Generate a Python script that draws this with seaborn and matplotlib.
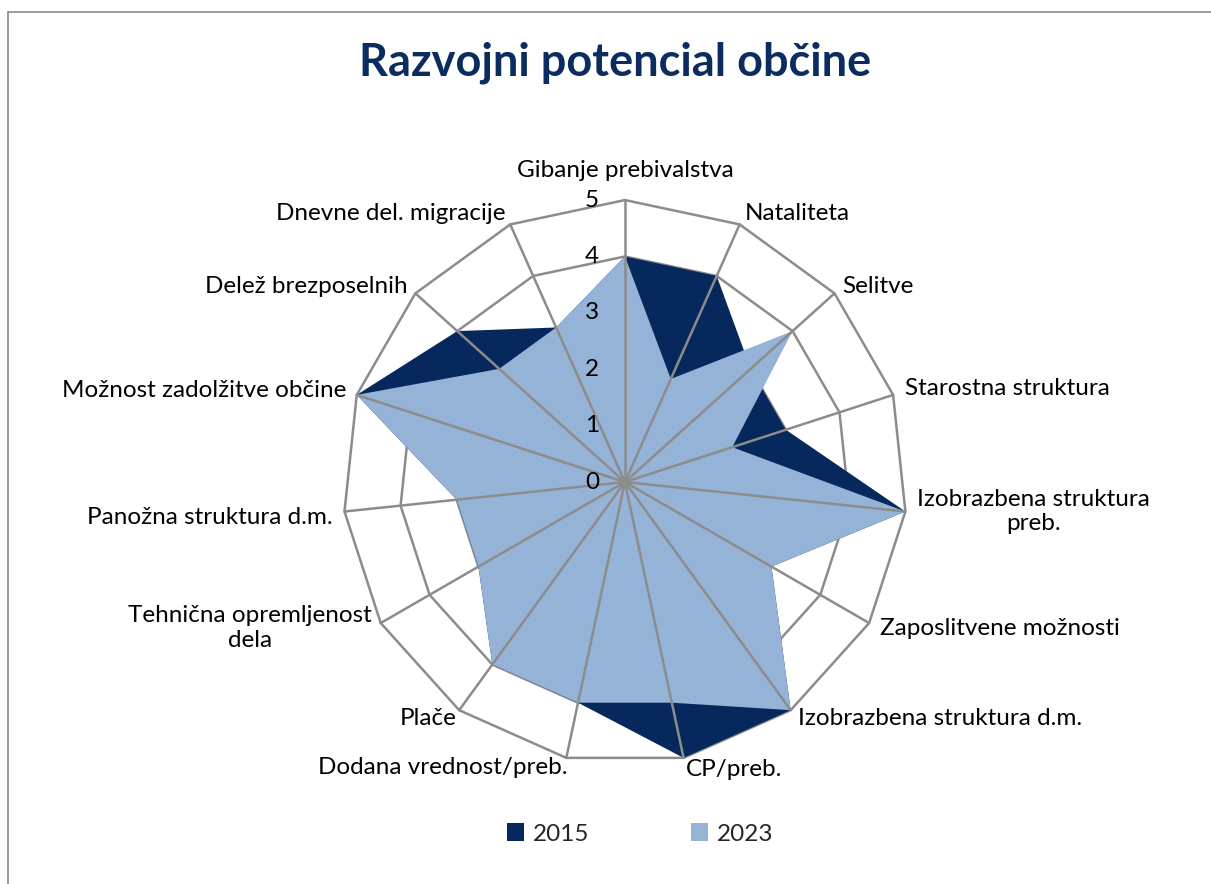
import numpy as np
import matplotlib
matplotlib.use("Agg")
import matplotlib.pyplot as plt
from matplotlib.patches import Patch
from matplotlib.lines import Line2D
import seaborn as sns

# ---- data ----
categories = [
    "Gibanje prebivalstva", "Nataliteta", "Selitve", "Starostna struktura",
    "Izobrazbena struktura\npreb.", "Zaposlitvene možnosti",
    "Izobrazbena struktura d.m.", "CP/preb.", "Dodana vrednost/preb.", "Plače",
    "Tehnična opremljenost\ndela", "Panožna struktura d.m.",
    "Možnost zadolžitve občine", "Delež brezposelnih", "Dnevne del. migracije",
]
values_2015 = [4, 4, 3, 3, 5, 3, 5, 5, 4, 4, 3, 3, 5, 4, 3]
values_2023 = [4, 2, 4, 2, 5, 3, 5, 4, 4, 4, 3, 3, 5, 3, 3]
series_names = ["2015", "2023"]
radial_ticks = [0, 1, 2, 3, 4, 5]
title = "Razvojni potencial občine"

# ---- style ----
sns.set_theme(style="white")
plt.rcParams["font.family"] = ["Lato", "DejaVu Sans"]
c2015 = "#06285C"
c2023 = "#95B3D7"
grid_c = "#8C8C8C"
title_c = "#0B2C5F"
lab_fs = 17.5

# label layout: (dx, dy) pixel offsets from r=max, horizontal alignment
label_layout = [
    ((0, 30), "center"), ((5, 11), "left"), ((8, 7), "left"), ((12, 6), "left"),
    ((12, 0), "left"), ((11, -5), "left"), ((7, -8), "left"), ((2, -12), "left"),
    ((1, -10), "right"), ((-3, -8), "right"), ((-9, -5), "right"),
    ((-12, -6), "right"), ((-10, 4), "right"), ((-8, 7), "right"), ((-5, 11), "right"),
]

fig = plt.figure(figsize=(12.11, 8.84), dpi=100)
fig.patch.set_facecolor("white")
ax = fig.add_axes([0.2832, 0.1357, 0.4657, 0.638], projection="polar")
ax.set_theta_offset(np.pi / 2)
ax.set_theta_direction(-1)
ax.set_facecolor("none")
ax.grid(False)
ax.spines["polar"].set_visible(False)

n = len(categories)
theta = np.linspace(0, 2 * np.pi, n, endpoint=False)
closed = np.append(theta, theta[0])
rmax = radial_ticks[-1]

# polygon gridlines
for r in radial_ticks[1:]:
    sns.lineplot(x=closed, y=np.full(n + 1, r), sort=False, estimator=None,
                 ax=ax, color=grid_c, lw=1.8, zorder=1)
for ln in ax.lines:
    ln.set_clip_on(False)

# series fills
ax.fill(closed, np.append(values_2015, values_2015[0]), color=c2015, lw=0, zorder=2)
ax.fill(closed, np.append(values_2023, values_2023[0]), color=c2023, lw=0, zorder=3)

# spokes
for t in theta:
    ax.plot([t, t], [0, rmax], color=grid_c, lw=1.8, zorder=5, clip_on=False)

ax.set_ylim(0, rmax)
ax.set_xticks([])
ax.set_yticks([])
ax.set_xlabel("")
ax.set_ylabel("")

# radial tick labels
for r in radial_ticks:
    ax.annotate(str(r), xy=(0, r), xytext=(-33, 0), textcoords="offset pixels",
                ha="center", va="center", fontsize=lab_fs, color="#000000",
                annotation_clip=False, zorder=6)

# category labels
for t, lab, ((dx, dy), ha) in zip(theta, categories, label_layout):
    ax.annotate(lab, xy=(t, rmax), xytext=(dx, dy), textcoords="offset pixels",
                ha=ha, va="center", multialignment="center", fontsize=lab_fs,
                color="#000000", annotation_clip=False)

# title
fig.text(615 / 1211, 1 - 63 / 884, title, ha="center", va="center",
         fontsize=32.5, fontweight="bold", color=title_c)

# legend
handles = [Patch(facecolor=c2015, edgecolor="none"),
           Patch(facecolor=c2023, edgecolor="none")]
fig.legend(handles, series_names, loc="center", bbox_to_anchor=(640 / 1211, 1 - 834 / 884),
           ncol=2, frameon=False, fontsize=lab_fs, handlelength=0.7, handleheight=0.7,
           handletextpad=0.35, columnspacing=4.2)

# chart frame
fig.add_artist(Line2D([8 / 1211, 1], [1 - 12 / 884, 1 - 12 / 884],
                      transform=fig.transFigure, color="#898989", lw=1.2))
fig.add_artist(Line2D([8 / 1211, 8 / 1211], [0, 1 - 12 / 884],
                      transform=fig.transFigure, color="#898989", lw=1.2))

fig.savefig("out.png", dpi=100)
